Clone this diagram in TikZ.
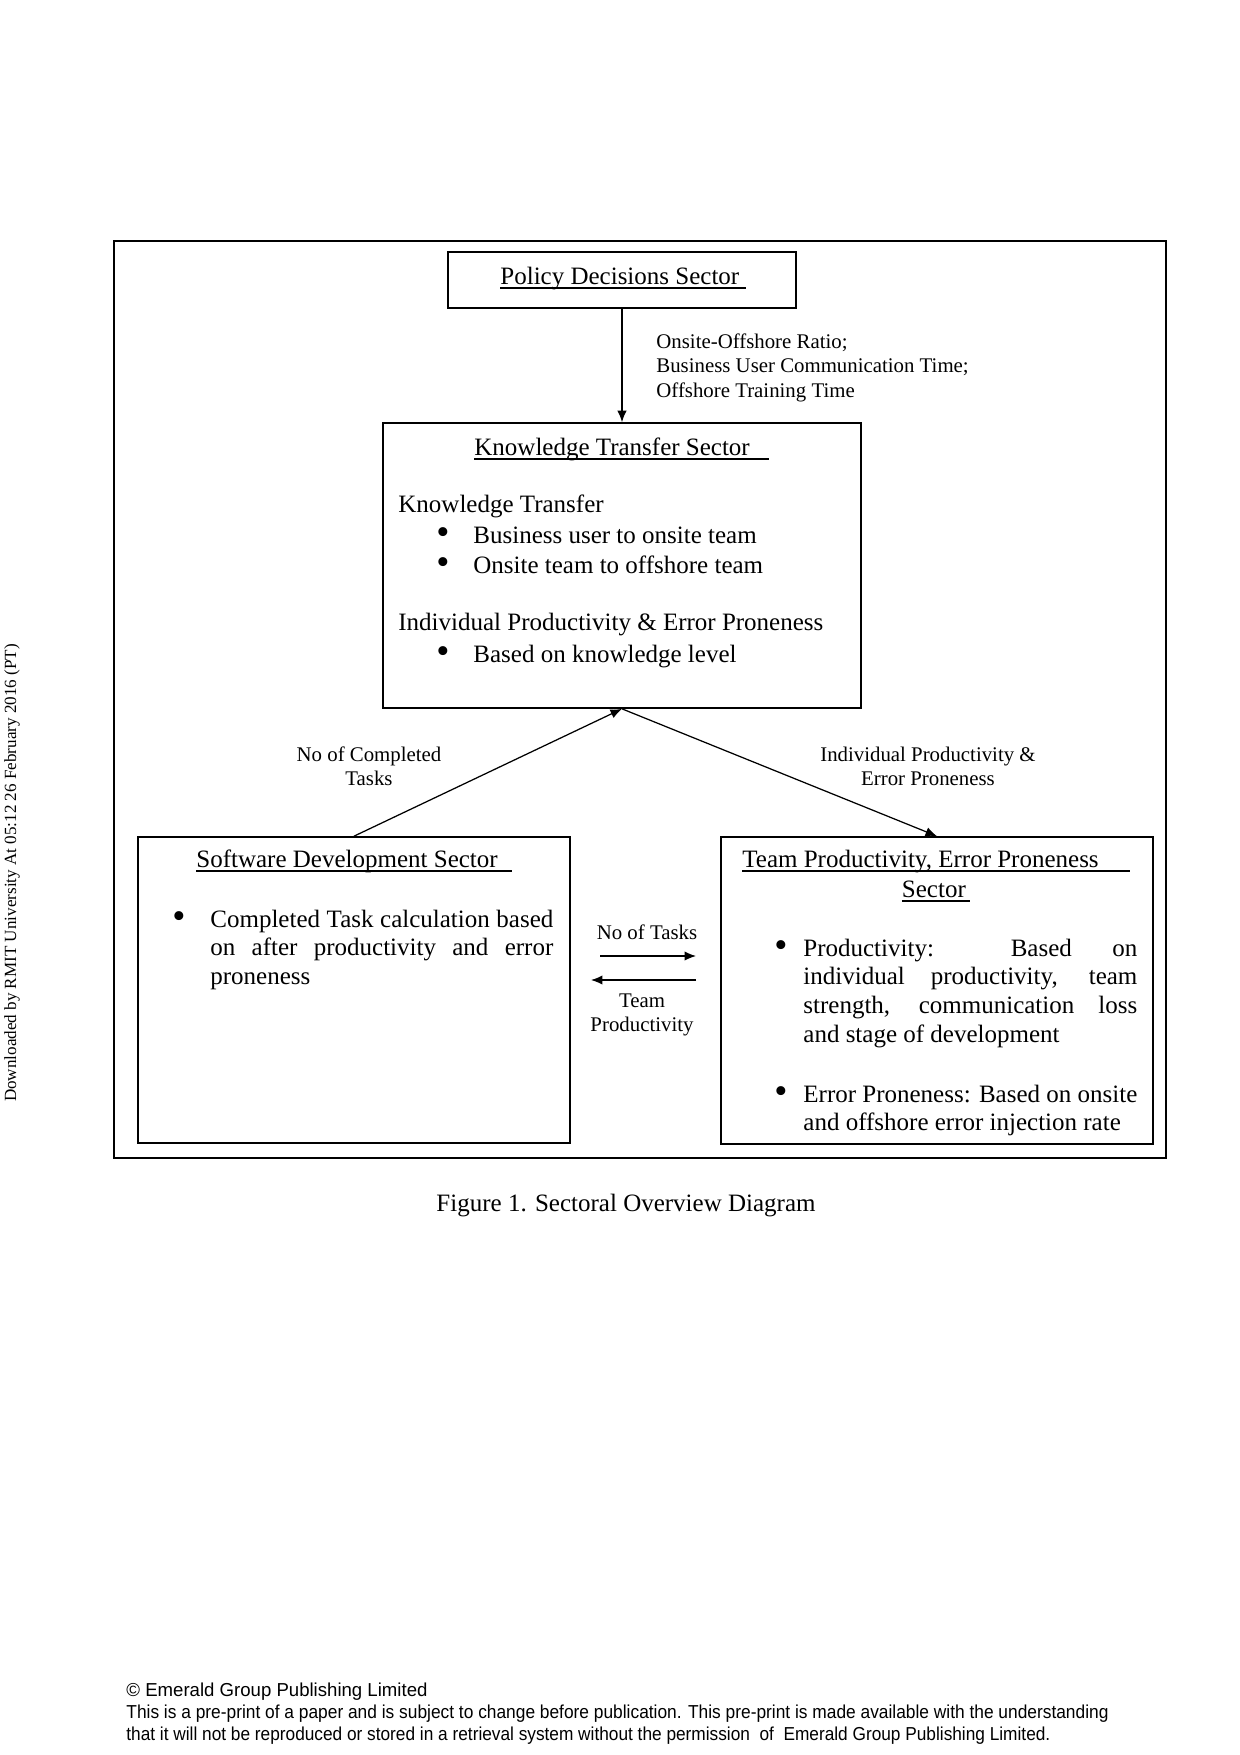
\documentclass[tikz,border=0pt]{standalone}
\usepackage{fontspec}
\usepackage{graphicx}
\setmainfont{Liberation Serif}
\newfontfamily\footfont{Liberation Sans}
\usetikzlibrary{arrows.meta}
\newcommand\myunder[1]{\setbox0\hbox{#1}\rlap{\rule[-2.2pt]{\wd0}{0.9pt}}\box0}
\newcommand\mybul{\raisebox{-0.6pt}{\scalebox{1.5}{\textbullet}}}
\begin{document}
\begin{tikzpicture}[x=0.48pt,y=-0.48pt,
  box/.style={draw, line width=0.8pt, inner sep=0pt, anchor=center},
  conn/.style={line width=0.6pt, -{Latex[length=5.5pt,width=4.5pt]}},
  body/.style={inner sep=0pt, font=\fontsize{12}{14}\selectfont, anchor=base west},
  bodyc/.style={inner sep=0pt, font=\fontsize{12}{14}\selectfont, anchor=base},
  bul/.style={inner sep=0pt, font=\fontsize{12}{14}\selectfont, anchor=base},
  lbl/.style={inner sep=0pt, font=\fontsize{10}{11.8}\selectfont, anchor=base},
  foot/.style={inner sep=0pt, font=\footfont\fontsize{9}{10}\selectfont, anchor=base west},
]
\useasboundingbox (0,0) rectangle (1240,1755);
\fill[white] (0,0) rectangle (1240,1755);

% frame and boxes
\node[box, minimum width=1052*0.48pt, minimum height=917*0.48pt] (frame) at (640,699.5) {};
\node[box, minimum width=348*0.48pt, minimum height=56*0.48pt] (policy) at (622,280) {};
\node[box, minimum width=478*0.48pt, minimum height=285*0.48pt] (kt) at (622,565.5) {};
\node[box, minimum width=432*0.48pt, minimum height=306*0.48pt] (sd) at (354,990) {};
\node[box, minimum width=432*0.48pt, minimum height=307*0.48pt] (tp) at (937,990.5) {};

% policy
\node[body] (policyt) at (500,284) {\myunder{Policy Decisions Sector\hspace{3pt}}};

% knowledge transfer
\node[body] (ktt) at (474,455) {\myunder{Knowledge Transfer Sector\hspace{9pt}}};
\node[body] (kth1) at (398,512) {Knowledge Transfer};
\node[bul] (ktb1) at (443,543) {\mybul};
\node[body] (ktx1) at (473,543) {Business user to onsite team};
\node[bul] (ktb2) at (443,573) {\mybul};
\node[body] (ktx2) at (473,573) {Onsite team to offshore team};
\node[body] (kth2) at (398,630) {Individual Productivity \& Error Proneness};
\node[bul] (ktb3) at (443,662) {\mybul};
\node[body] (ktx3) at (473,662) {Based on knowledge level};

% software development
\node[body] (sdt) at (196,867) {\myunder{Software Development Sector\hspace{7pt}}};
\node[bul] (sdb1) at (179,927) {\mybul};
\node[body] (sdx1) at (210,927) {\parbox[t]{164.6pt}{\fontsize{12}{13.9}\selectfont
  Completed Task calculation based\linebreak on after productivity and error\linebreak proneness}};

% team productivity
\node[body] (tpt) at (742,867) {\myunder{Team Productivity, Error Proneness\hspace{15pt}}};
\node[bodyc] (tpt2) at (936,897) {\myunder{Sector\hspace{2pt}}};
\node[bul] (tpb1) at (781,956) {\mybul};
\node[body] (tpx1) at (803,956) {\parbox[t]{160.3pt}{\fontsize{12}{13.8}\selectfont
  Productivity: Based on\linebreak individual productivity, team\linebreak strength, communication loss\linebreak and stage of development}};
\node[bul] (tpb2) at (781,1102) {\mybul};
\node[body] (tpx2) at (803,1102) {\parbox[t]{162pt}{\fontsize{12}{13.8}\selectfont\raggedright
  Error Proneness: Based on onsite\\ and offshore error injection rate}};

% connectors
\draw[conn] (policy.south) -- (kt.north);
\draw[conn] (sd.north) -- (kt.south);
\draw[conn] (kt.south) -- (tp.north);
\coordinate (r1) at (600,956);
\coordinate (r2) at (696,956);
\coordinate (l1) at (696,980);
\coordinate (l2) at (591,980);
\draw[conn] (r1) -- (r2);
\draw[conn] (l1) -- (l2);

% labels
\node[inner sep=0pt, anchor=base west, font=\fontsize{10}{11.8}\selectfont] (pl) at (656,348)
  {\parbox[t]{200pt}{\raggedright Onsite-Offshore Ratio;\\ Business User Communication Time;\\ Offshore Training Time}};
\node[lbl] (cl) at (369,761) {\parbox[t]{100pt}{\centering No of Completed\\ Tasks}};
\node[lbl] (il) at (928,761) {\parbox[t]{140pt}{\centering Individual Productivity \&\\ Error Proneness}};
\node[lbl] (nt) at (647,939) {No of Tasks};
\node[lbl] (tpl) at (642,1007) {\parbox[t]{80pt}{\centering Team\\ Productivity}};

% caption
\node[bodyc] (cap) at (626,1211) {Figure 1. Sectoral Overview Diagram};

% side text
\node[inner sep=0pt, rotate=90, font=\fontsize{8.2}{10}\selectfont] (side) at (12,873)
  {Downloaded by RMIT University At 05:12 26 February 2016 (PT)};

% footer
\node[foot] (f1) at (126,1696) {\resizebox{144.5pt}{\height}{\textcopyright{} Emerald Group Publishing Limited}};
\node[foot] (f2) at (126,1718) {\resizebox{471.4pt}{\height}{This is a pre-print of a paper and is subject to change before publication. This pre-print is made available with the understanding}};
\node[foot] (f3) at (126,1740) {\resizebox{443.5pt}{\height}{that it will not be reproduced or stored in a retrieval system without the permission\ \ of\ \ Emerald Group Publishing Limited.}};
\end{tikzpicture}
\end{document}
